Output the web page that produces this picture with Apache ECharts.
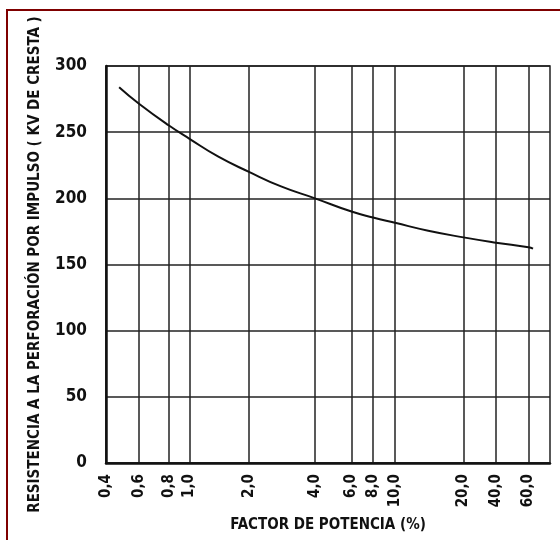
<!DOCTYPE html>
<html>
<head>
<meta charset="utf-8">
<script src="https://cdn.jsdelivr.net/npm/echarts@6/dist/echarts.min.js"></script>
<style>
  html, body { margin: 0; padding: 0; background: #fff; }
  #chart { width: 560px; height: 540px; }
</style>
</head>
<body>
<div id="chart"></div>
<script>
// Printed power-factor scale: tick values and where each sits along the
// axis (in scale divisions from the 0,4 line). The paper is not a pure log scale.
const factorTicks = [0.4, 0.6, 0.8, 1.0, 2.0, 4.0, 6.0, 8.0, 10.0, 20.0, 40.0, 60.0];
const factorLabels = ['0,4', '0,6', '0,8', '1,0', '2,0', '4,0', '6,0', '8,0', '10,0', '20,0', '40,0', '60,0'];
const tickScale = [0, 33, 63, 83.5, 143, 209, 245.5, 267, 289, 357.5, 390, 422.5];
const scaleMax = 444;

// Impulse breakdown strength curve (kV crest) vs power factor (%)
const curveFactor = [0.47, 0.6, 0.8, 1.0, 1.4, 2.0, 2.8, 4.0, 6.0, 8.0, 10.0, 14.0, 20.0, 40.0, 60.0, 63.5];
const curveKv = [284, 271.5, 255, 245, 231.5, 220, 209, 200, 190, 185.5, 181.5, 175.5, 170.5, 166.5, 163, 162];

const yTicks = [0, 50, 100, 150, 200, 250, 300];

// Map a power factor onto the printed scale: log interpolation between ticks
function toScale(f) {
  const n = factorTicks.length;
  let i = 0;
  while (i < n - 2 && f > factorTicks[i + 1]) i++;
  const a = factorTicks[i], b = factorTicks[i + 1];
  const t = Math.log(f / a) / Math.log(b / a);
  return tickScale[i] + t * (tickScale[i + 1] - tickScale[i]);
}

const curve = curveFactor.map((f, i) => [toScale(f), curveKv[i]]);

const FONT = '"Liberation Sans Narrow", "DejaVu Sans Condensed", "Liberation Sans", sans-serif';

const chart = echarts.init(document.getElementById('chart'), null, { renderer: 'canvas' });
chart.setOption({
  backgroundColor: '#ffffff',
  animation: false,
  graphic: [{
    type: 'rect',
    shape: { x: 7, y: 10, width: 700, height: 700 },
    style: { fill: 'none', stroke: '#7f0000', lineWidth: 2 },
    silent: true
  }],
  grid: {
    left: 106, right: 10, top: 66, bottom: 77,
    containLabel: false,
    outerBoundsMode: 'none',
    show: true,
    borderColor: '#222',
    borderWidth: 1.5
  },
  xAxis: {
    type: 'value',
    min: 0,
    max: scaleMax,
    name: 'FACTOR DE POTENCIA (%)',
    nameLocation: 'middle',
    nameGap: 55,
    nameTextStyle: { fontFamily: FONT, fontWeight: 'bold', fontSize: 15, color: '#111' },
    axisLine: { show: true, onZero: false, lineStyle: { color: '#111', width: 2.5 } },
    axisTick: { show: false, customValues: tickScale },
    axisLabel: {
      customValues: tickScale,
      rotate: 90,
      margin: 11,
      fontFamily: FONT, fontWeight: 'bold', fontSize: 15, color: '#111',
      formatter: v => {
        const k = tickScale.findIndex(s => Math.abs(s - v) < 0.01);
        return k >= 0 ? factorLabels[k] : '';
      }
    },
    splitLine: { show: true, lineStyle: { color: '#222', width: 1.5 } }
  },
  yAxis: {
    type: 'value',
    min: yTicks[0],
    max: yTicks[yTicks.length - 1],
    interval: 50,
    name: 'RESISTENCIA A LA PERFORACIÓN POR IMPULSO ( KV DE CRESTA )',
    nameLocation: 'middle',
    nameGap: 63,
    nameRotate: 90,
    nameTextStyle: { fontFamily: FONT, fontWeight: 'bold', fontSize: 15, color: '#111' },
    axisLine: { show: true, lineStyle: { color: '#111', width: 2.5 } },
    axisTick: { show: false },
    axisLabel: { margin: 19, fontFamily: FONT, fontWeight: 'bold', fontSize: 17, color: '#111' },
    splitLine: { show: true, lineStyle: { color: '#222', width: 1.5 } }
  },
  series: [{
    type: 'line',
    data: curve,
    smooth: 0.5,
    showSymbol: false,
    lineStyle: { color: '#111', width: 2 }
  }]
});
</script>
</body>
</html>
